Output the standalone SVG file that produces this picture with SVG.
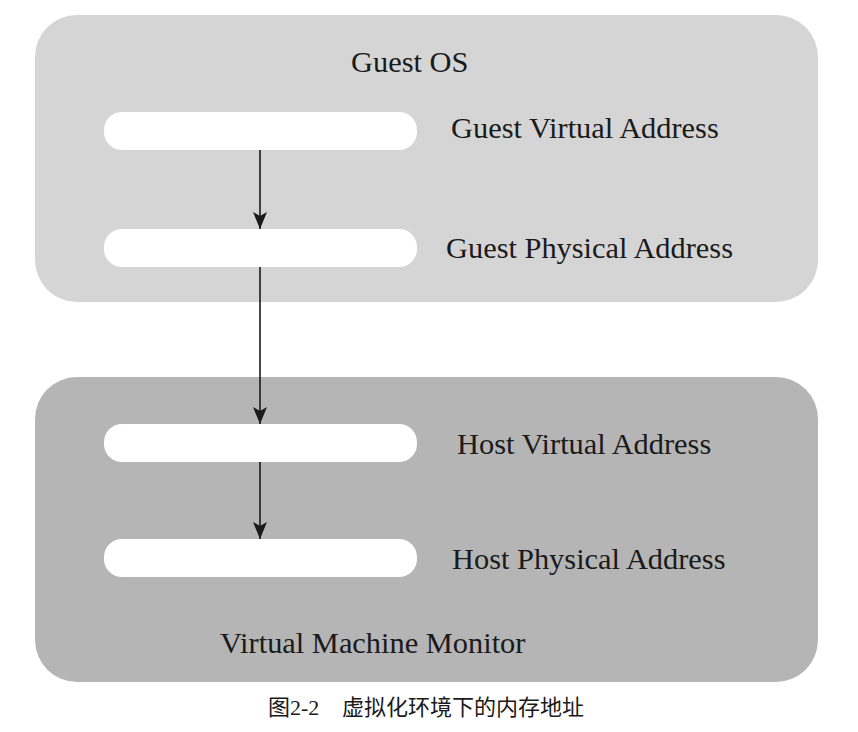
<svg xmlns="http://www.w3.org/2000/svg" width="858" height="732" viewBox="0 0 858 732">
<style>
.lbl{font-family:"Liberation Serif","Times New Roman",serif;font-size:30.4px;fill:#1a1a1a}
.bar{fill:#ffffff}
.ln{stroke:#1a1a1a;stroke-width:1.6;fill:none}
.cap{font-family:"Liberation Serif","Noto Sans CJK SC",serif;font-size:22px;fill:#1a1a1a}
</style>
<defs>
<marker id="ah" markerUnits="userSpaceOnUse" markerWidth="18" markerHeight="14" refX="17" refY="7" orient="auto" viewBox="0 0 18 14">
<path d="M0,0 L17,7 L0,14 L4,7 Z" fill="#1a1a1a"/>
</marker>
</defs>
<rect width="858" height="732" fill="#ffffff"/>
<g id="guest-os">
<rect x="35" y="15" width="783" height="287" rx="42" ry="42" fill="#d5d5d5"/>
<text class="lbl" x="351" y="72">Guest OS</text>
</g>
<g id="vmm">
<rect x="35" y="377" width="783" height="305" rx="42" ry="42" fill="#b5b5b5"/>
<text class="lbl" x="220" y="653">Virtual Machine Monitor</text>
</g>
<g id="gva">
<rect class="bar" x="104" y="112" width="313" height="38" rx="18" ry="18"/>
<text class="lbl" x="451" y="138">Guest Virtual Address</text>
</g>
<g id="gpa">
<rect class="bar" x="104" y="229" width="313" height="38" rx="18" ry="18"/>
<text class="lbl" x="446" y="258">Guest Physical Address</text>
</g>
<g id="hva">
<rect class="bar" x="104" y="424" width="313" height="38" rx="18" ry="18"/>
<text class="lbl" x="457" y="454">Host Virtual Address</text>
</g>
<g id="hpa">
<rect class="bar" x="104" y="539" width="313" height="38" rx="18" ry="18"/>
<text class="lbl" x="452" y="569">Host Physical Address</text>
</g>
<g id="connectors">
<path class="ln" d="M260,150 V229" marker-end="url(#ah)"/>
<path class="ln" d="M260,267 V424" marker-end="url(#ah)"/>
<path class="ln" d="M260,462 V539" marker-end="url(#ah)"/>
</g>
<g id="caption">
<text class="cap" x="268" y="715">图2-2</text>
<text class="cap" x="342" y="715">虚拟化环境下的内存地址</text>
</g>
</svg>
